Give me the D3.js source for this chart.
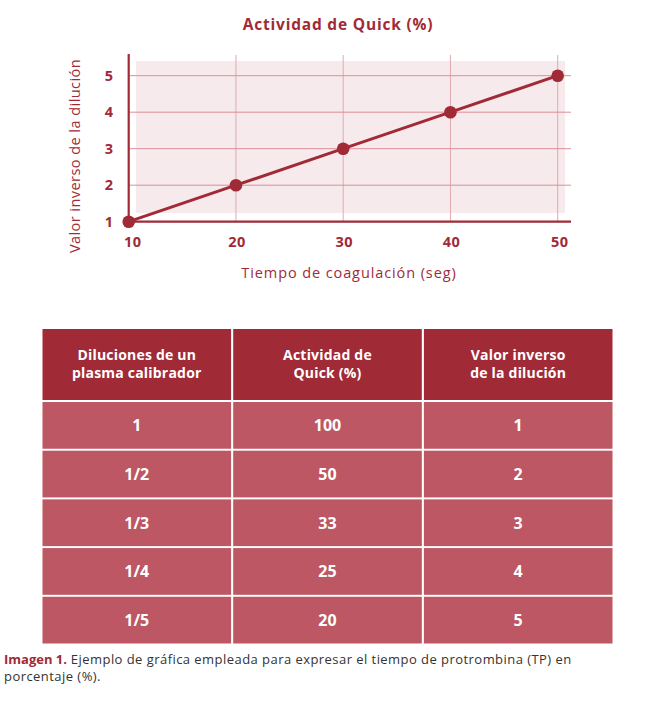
<!DOCTYPE html>
<meta charset="utf-8">
<style>
  body { margin: 0; background: #fff; }
  svg text { font-family: "Open Sans", sans-serif; }
</style>
<body>
<script src="https://d3js.org/d3.v7.min.js"></script>
<div id="chart"></div>
<script>
// data
const tiempo = [10, 20, 30, 40, 50];        // Tiempo de coagulación (seg)
const inverso = [1, 2, 3, 4, 5];            // Valor inverso de la dilución
const xTicks = [10, 20, 30, 40, 50];
const yTicks = [1, 2, 3, 4, 5];

const tableHeaders = [["Diluciones de un", "plasma calibrador"], ["Actividad de", "Quick (%)"], ["Valor inverso", "de la dilución"]];
const diluciones = ["1", "1/2", "1/3", "1/4", "1/5"];
const actividad = [100, 50, 33, 25, 20];
const valorInverso = [1, 2, 3, 4, 5];

const dark = "#a12a37", light = "#bc5763";

const svg = d3.select("#chart").append("svg")
    .attr("width", 652)
    .attr("height", 705);

const x = d3.scaleLinear().domain([10, 50]).range([128.7, 557.7]);
const y = d3.scaleLinear().domain([1, 5]).range([221.7, 75.7]);

// title
svg.append("text")
    .attr("x", 338).attr("y", 30)
    .attr("text-anchor", "middle")
    .attr("font-size", 15.5).attr("font-weight", 700)
    .attr("letter-spacing", 0.8)
    .attr("fill", dark)
    .text("Actividad de Quick (%)");

// pink plot background
svg.append("rect")
    .attr("x", 136).attr("y", 61)
    .attr("width", 429).attr("height", 152)
    .attr("fill", "#f7eaec");

// grid
svg.append("g").selectAll("line")
    .data(xTicks.slice(1))
    .join("line")
    .attr("x1", d => x(d)).attr("x2", d => x(d))
    .attr("y1", 55).attr("y2", y(1))
    .attr("stroke", "#e2a9b0").attr("stroke-width", 1);

svg.append("g").selectAll("line")
    .data(yTicks.slice(1))
    .join("line")
    .attr("x1", x(10)).attr("x2", 571)
    .attr("y1", d => y(d)).attr("y2", d => y(d))
    .attr("stroke", "#dc8f99").attr("stroke-width", 1);

// axes
svg.append("line")
    .attr("x1", x(10)).attr("x2", x(10))
    .attr("y1", 54).attr("y2", y(1) + 1)
    .attr("stroke", dark).attr("stroke-width", 2.2);
svg.append("line")
    .attr("x1", x(10) - 1).attr("x2", 571)
    .attr("y1", y(1)).attr("y2", y(1))
    .attr("stroke", dark).attr("stroke-width", 2.2);

// tick labels
svg.append("g").selectAll("text")
    .data(xTicks)
    .join("text")
    .attr("x", (d, i) => x(d) + (i === 0 ? 4 : (i === 4 ? 2 : 1)))
    .attr("y", 247)
    .attr("text-anchor", "middle")
    .attr("font-size", 14.5).attr("font-weight", 700)
    .attr("letter-spacing", 0.5)
    .attr("fill", dark)
    .text(d => d);

svg.append("g").selectAll("text")
    .data(yTicks)
    .join("text")
    .attr("x", 109)
    .attr("y", d => y(d) + 5)
    .attr("text-anchor", "middle")
    .attr("font-size", 14.5).attr("font-weight", 700)
    .attr("fill", dark)
    .text(d => d);

// axis titles
svg.append("text")
    .attr("x", 349).attr("y", 278)
    .attr("text-anchor", "middle")
    .attr("font-size", 14.5)
    .attr("letter-spacing", 0.9)
    .attr("fill", dark)
    .text("Tiempo de coagulación (seg)");

svg.append("text")
    .attr("transform", "translate(80,156) rotate(-90)")
    .attr("text-anchor", "middle")
    .attr("font-size", 14.5)
    .attr("letter-spacing", 0.45)
    .attr("fill", dark)
    .text("Valor inverso de la dilución");

// line + points
const pts = tiempo.map((t, i) => [t, inverso[i]]);
svg.append("path")
    .datum(pts)
    .attr("d", d3.line().x(d => x(d[0])).y(d => y(d[1])))
    .attr("fill", "none")
    .attr("stroke", dark)
    .attr("stroke-width", 3);

svg.append("g").selectAll("circle")
    .data(pts)
    .join("circle")
    .attr("cx", d => x(d[0])).attr("cy", d => y(d[1]))
    .attr("r", 6.3)
    .attr("fill", dark);

// table
const cols = d3.scaleBand().domain([0, 1, 2]).range([42.5, 612.5]).paddingInner(0.011);
const rows = d3.scaleBand().domain(d3.range(diluciones.length)).range([402, 643.5]).paddingInner(0.04);
const table = svg.append("g");

const head = table.selectAll("g.head")
    .data(tableHeaders)
    .join("g");
head.append("rect")
    .attr("x", (d, i) => cols(i)).attr("y", 329)
    .attr("width", cols.bandwidth()).attr("height", 71)
    .attr("fill", dark);
head.append("text")
    .attr("x", (d, i) => cols(i) + cols.bandwidth() / 2)
    .attr("y", 359.5)
    .attr("text-anchor", "middle")
    .attr("font-size", 14).attr("font-weight", 700)
    .attr("letter-spacing", 0.2)
    .attr("fill", "#fff")
    .selectAll("tspan")
    .data(d => d)
    .join("tspan")
    .attr("x", function () { return this.parentNode.getAttribute("x"); })
    .attr("dy", (d, i) => i === 0 ? 0 : 18)
    .text(d => d);

const body = diluciones.map((d, i) => [d, actividad[i], valorInverso[i]]);
const rowG = table.selectAll("g.row")
    .data(body)
    .join("g")
    .attr("transform", (d, i) => `translate(0,${rows(i)})`);
rowG.selectAll("rect")
    .data(d => d)
    .join("rect")
    .attr("x", (d, i) => cols(i))
    .attr("width", cols.bandwidth())
    .attr("height", rows.bandwidth())
    .attr("fill", light);
rowG.selectAll("text")
    .data(d => d)
    .join("text")
    .attr("x", (d, i) => cols(i) + cols.bandwidth() / 2)
    .attr("y", rows.bandwidth() / 2 + 6)
    .attr("text-anchor", "middle")
    .attr("font-size", 16).attr("font-weight", 700)
    .attr("fill", "#fff")
    .text(d => d);

// caption
const cap = svg.append("text")
    .attr("x", 4).attr("y", 664)
    .attr("font-size", 13)
    .attr("fill", "#333");
cap.append("tspan").attr("font-weight", 700).attr("fill", dark).text("Imagen 1.");
cap.append("tspan").attr("letter-spacing", 0.45)
    .text(" Ejemplo de gráfica empleada para expresar el tiempo de protrombina (TP) en");
svg.append("text")
    .attr("x", 4).attr("y", 681)
    .attr("font-size", 13)
    .attr("letter-spacing", 0.45)
    .attr("fill", "#333")
    .text("porcentaje (%).");
</script>
</body>
